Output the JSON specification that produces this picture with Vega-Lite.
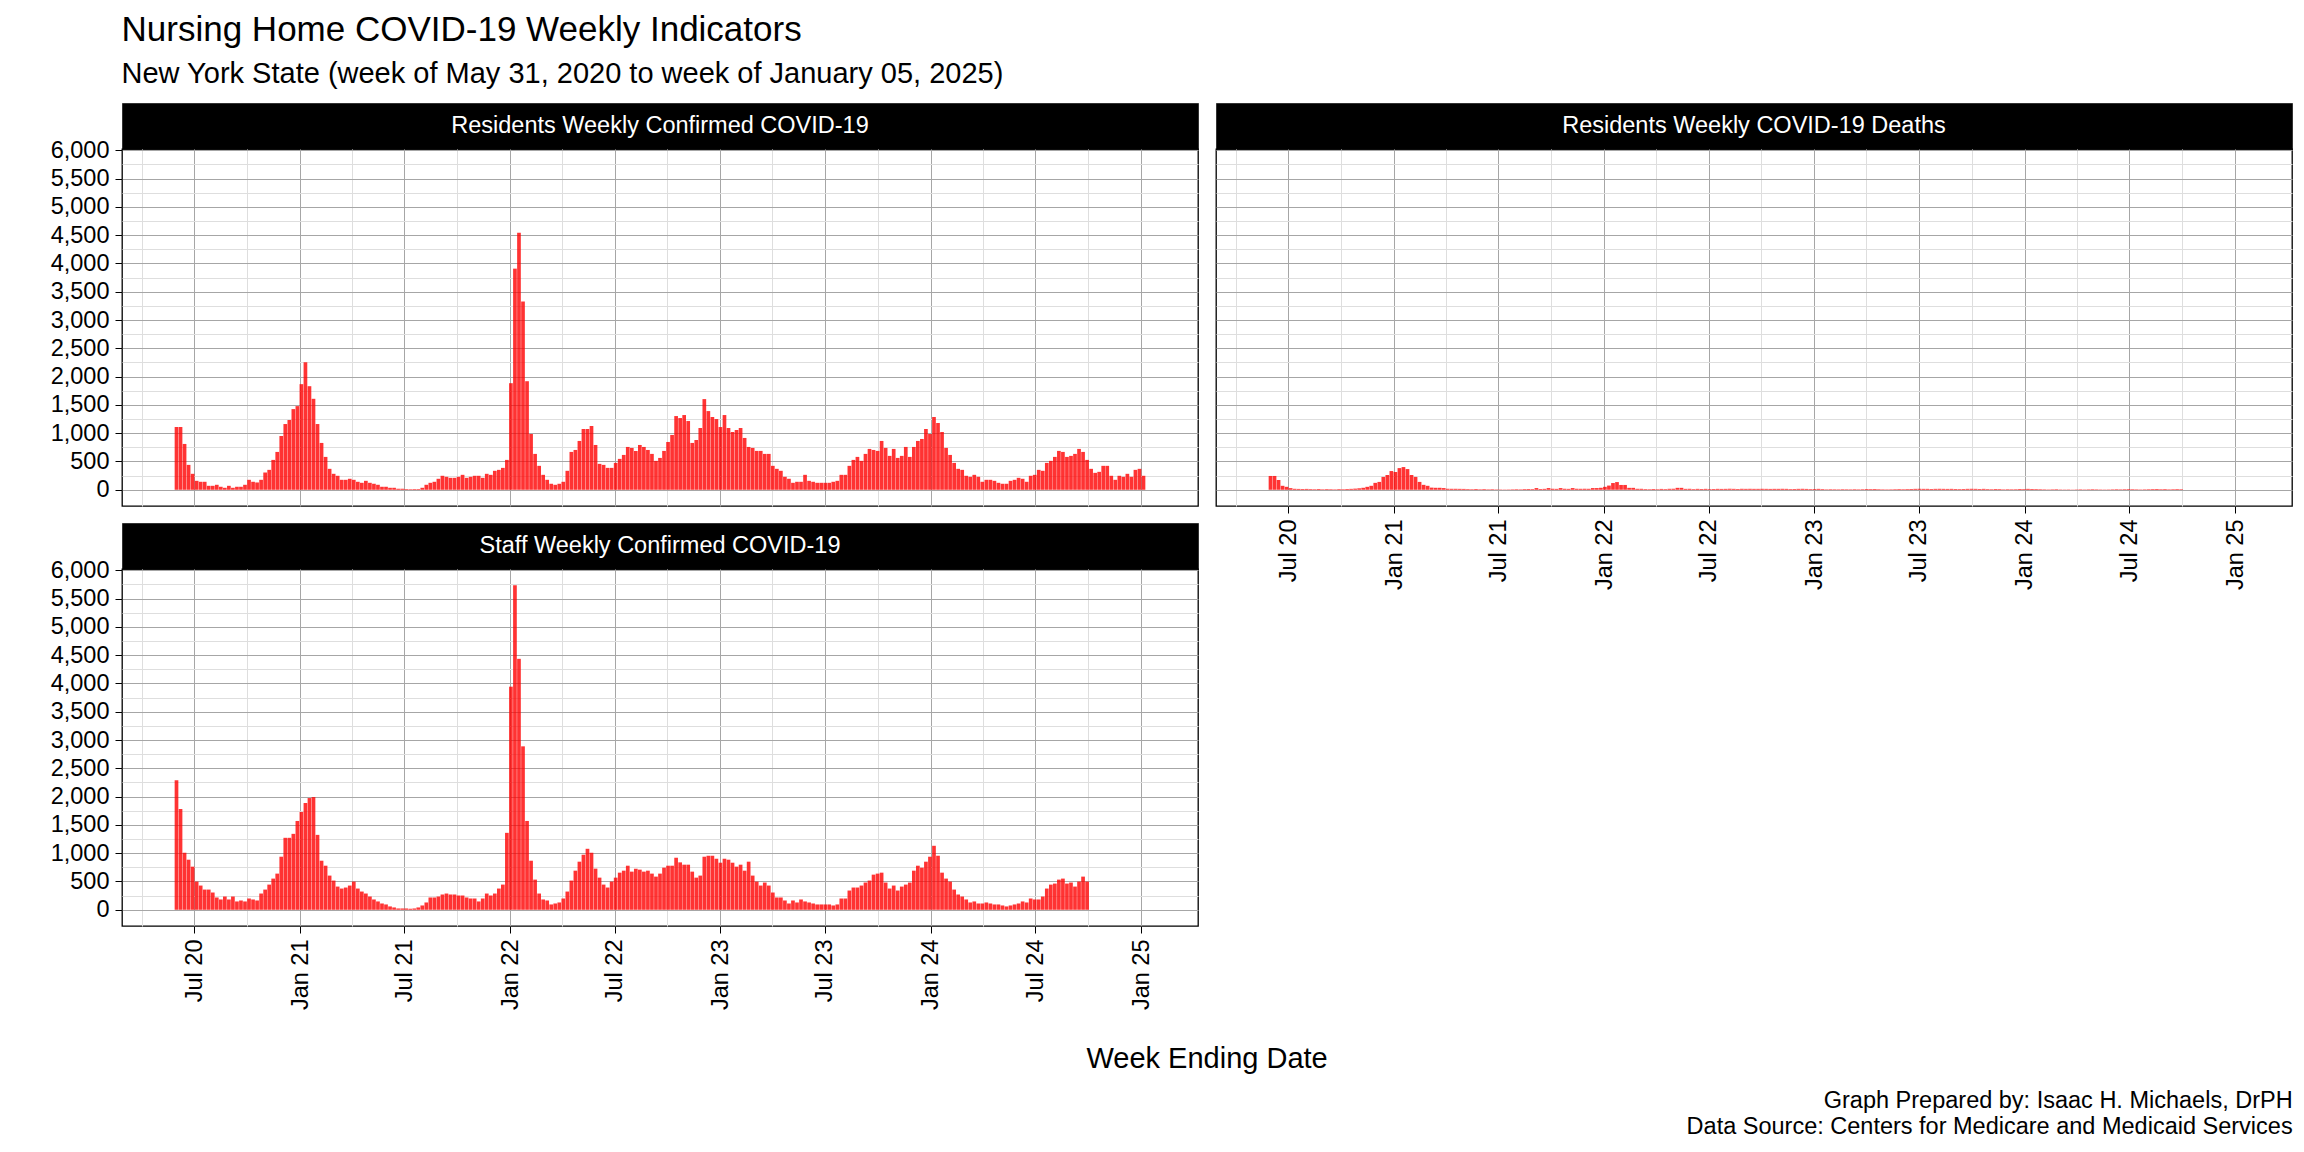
{
"$schema":"https://vega.github.io/schema/vega-lite/v6.json",
"background":"white",
"padding":{"left":49,"top":12,"right":14,"bottom":10},
"title":{"text":"Nursing Home COVID-19 Weekly Indicators","subtitle":"New York State (week of May 31, 2020 to week of January 05, 2025)","anchor":"start","dx":72,"fontSize":35,"subtitleFontSize":29,"fontWeight":"normal","color":"black","subtitleColor":"black","subtitlePadding":12,"offset":14,"font":"Liberation Sans","subtitleFont":"Liberation Sans"},
"config":{"font":"Liberation Sans","view":{"stroke":"black","strokeWidth":1.3},"axis":{"labelFont":"Liberation Sans","labelColor":"black"}},
"datasets":{"weekly":[
{"week":"2020-05-31","res":1110,"deaths":244,"staff":2291},
{"week":"2020-06-07","res":1110,"deaths":244,"staff":1781},
{"week":"2020-06-14","res":810,"deaths":174,"staff":1008},
{"week":"2020-06-21","res":440,"deaths":70,"staff":885},
{"week":"2020-06-28","res":282,"deaths":52,"staff":762},
{"week":"2020-07-05","res":158,"deaths":29,"staff":498},
{"week":"2020-07-12","res":141,"deaths":17,"staff":428},
{"week":"2020-07-19","res":141,"deaths":15,"staff":357},
{"week":"2020-07-26","res":70,"deaths":14,"staff":357},
{"week":"2020-08-02","res":70,"deaths":15,"staff":305},
{"week":"2020-08-09","res":88,"deaths":12,"staff":217},
{"week":"2020-08-16","res":53,"deaths":10,"staff":182},
{"week":"2020-08-23","res":35,"deaths":14,"staff":234},
{"week":"2020-08-30","res":70,"deaths":9,"staff":182},
{"week":"2020-09-06","res":35,"deaths":12,"staff":234},
{"week":"2020-09-13","res":53,"deaths":10,"staff":147},
{"week":"2020-09-20","res":53,"deaths":8,"staff":164},
{"week":"2020-09-27","res":88,"deaths":12,"staff":147},
{"week":"2020-10-04","res":176,"deaths":10,"staff":199},
{"week":"2020-10-11","res":141,"deaths":14,"staff":182},
{"week":"2020-10-18","res":129,"deaths":16,"staff":164},
{"week":"2020-10-25","res":176,"deaths":20,"staff":287},
{"week":"2020-11-01","res":305,"deaths":26,"staff":357},
{"week":"2020-11-08","res":352,"deaths":35,"staff":445},
{"week":"2020-11-15","res":528,"deaths":52,"staff":551},
{"week":"2020-11-22","res":669,"deaths":70,"staff":639},
{"week":"2020-11-29","res":951,"deaths":122,"staff":938},
{"week":"2020-12-06","res":1162,"deaths":139,"staff":1272},
{"week":"2020-12-13","res":1233,"deaths":227,"staff":1272},
{"week":"2020-12-20","res":1426,"deaths":261,"staff":1342},
{"week":"2020-12-27","res":1479,"deaths":331,"staff":1570},
{"week":"2021-01-03","res":1867,"deaths":314,"staff":1729},
{"week":"2021-01-10","res":2254,"deaths":383,"staff":1887},
{"week":"2021-01-17","res":1831,"deaths":401,"staff":1975},
{"week":"2021-01-24","res":1608,"deaths":366,"staff":1992},
{"week":"2021-01-31","res":1162,"deaths":261,"staff":1324},
{"week":"2021-02-07","res":828,"deaths":227,"staff":867},
{"week":"2021-02-14","res":581,"deaths":139,"staff":779},
{"week":"2021-02-21","res":370,"deaths":87,"staff":604},
{"week":"2021-02-28","res":282,"deaths":70,"staff":516},
{"week":"2021-03-07","res":247,"deaths":38,"staff":410},
{"week":"2021-03-14","res":176,"deaths":35,"staff":375},
{"week":"2021-03-21","res":176,"deaths":35,"staff":393},
{"week":"2021-03-28","res":194,"deaths":30,"staff":428},
{"week":"2021-04-04","res":176,"deaths":18,"staff":498},
{"week":"2021-04-11","res":141,"deaths":17,"staff":375},
{"week":"2021-04-18","res":123,"deaths":17,"staff":322},
{"week":"2021-04-25","res":158,"deaths":16,"staff":287},
{"week":"2021-05-02","res":123,"deaths":15,"staff":234},
{"week":"2021-05-09","res":106,"deaths":12,"staff":182},
{"week":"2021-05-16","res":88,"deaths":10,"staff":147},
{"week":"2021-05-23","res":53,"deaths":14,"staff":111},
{"week":"2021-05-30","res":53,"deaths":9,"staff":94},
{"week":"2021-06-06","res":35,"deaths":12,"staff":59},
{"week":"2021-06-13","res":35,"deaths":8,"staff":41},
{"week":"2021-06-20","res":18,"deaths":10,"staff":23},
{"week":"2021-06-27","res":18,"deaths":7,"staff":23},
{"week":"2021-07-04","res":12,"deaths":6,"staff":23},
{"week":"2021-07-11","res":10,"deaths":5,"staff":18},
{"week":"2021-07-18","res":12,"deaths":6,"staff":23},
{"week":"2021-07-25","res":12,"deaths":8,"staff":41},
{"week":"2021-08-01","res":35,"deaths":10,"staff":76},
{"week":"2021-08-08","res":88,"deaths":8,"staff":129},
{"week":"2021-08-15","res":123,"deaths":12,"staff":217},
{"week":"2021-08-22","res":141,"deaths":14,"staff":217},
{"week":"2021-08-29","res":194,"deaths":12,"staff":234},
{"week":"2021-09-05","res":247,"deaths":30,"staff":270},
{"week":"2021-09-12","res":229,"deaths":14,"staff":287},
{"week":"2021-09-19","res":211,"deaths":16,"staff":270},
{"week":"2021-09-26","res":211,"deaths":30,"staff":270},
{"week":"2021-10-03","res":229,"deaths":18,"staff":252},
{"week":"2021-10-10","res":264,"deaths":16,"staff":252},
{"week":"2021-10-17","res":211,"deaths":30,"staff":217},
{"week":"2021-10-24","res":229,"deaths":18,"staff":199},
{"week":"2021-10-31","res":247,"deaths":16,"staff":199},
{"week":"2021-11-07","res":247,"deaths":30,"staff":147},
{"week":"2021-11-14","res":211,"deaths":18,"staff":199},
{"week":"2021-11-21","res":282,"deaths":17,"staff":287},
{"week":"2021-11-28","res":264,"deaths":18,"staff":252},
{"week":"2021-12-05","res":335,"deaths":17,"staff":287},
{"week":"2021-12-12","res":352,"deaths":30,"staff":375},
{"week":"2021-12-19","res":387,"deaths":30,"staff":445},
{"week":"2021-12-26","res":528,"deaths":35,"staff":1360},
{"week":"2022-01-02","res":1884,"deaths":52,"staff":3944},
{"week":"2022-01-09","res":3909,"deaths":74,"staff":5737},
{"week":"2022-01-16","res":4543,"deaths":119,"staff":4436},
{"week":"2022-01-23","res":3328,"deaths":136,"staff":2889},
{"week":"2022-01-30","res":1919,"deaths":85,"staff":1570},
{"week":"2022-02-06","res":986,"deaths":85,"staff":867},
{"week":"2022-02-13","res":634,"deaths":34,"staff":533},
{"week":"2022-02-20","res":423,"deaths":34,"staff":287},
{"week":"2022-02-27","res":264,"deaths":17,"staff":182},
{"week":"2022-03-06","res":176,"deaths":17,"staff":164},
{"week":"2022-03-13","res":106,"deaths":12,"staff":94},
{"week":"2022-03-20","res":88,"deaths":10,"staff":111},
{"week":"2022-03-27","res":106,"deaths":14,"staff":129},
{"week":"2022-04-03","res":141,"deaths":10,"staff":199},
{"week":"2022-04-10","res":335,"deaths":15,"staff":322},
{"week":"2022-04-17","res":669,"deaths":12,"staff":516},
{"week":"2022-04-24","res":704,"deaths":17,"staff":691},
{"week":"2022-05-01","res":863,"deaths":18,"staff":850},
{"week":"2022-05-08","res":1074,"deaths":34,"staff":973},
{"week":"2022-05-15","res":1074,"deaths":34,"staff":1078},
{"week":"2022-05-22","res":1127,"deaths":16,"staff":1008},
{"week":"2022-05-29","res":792,"deaths":17,"staff":727},
{"week":"2022-06-05","res":458,"deaths":12,"staff":568},
{"week":"2022-06-12","res":440,"deaths":16,"staff":445},
{"week":"2022-06-19","res":387,"deaths":14,"staff":393},
{"week":"2022-06-26","res":387,"deaths":16,"staff":498},
{"week":"2022-07-03","res":475,"deaths":12,"staff":568},
{"week":"2022-07-10","res":546,"deaths":14,"staff":656},
{"week":"2022-07-17","res":616,"deaths":16,"staff":691},
{"week":"2022-07-24","res":757,"deaths":15,"staff":779},
{"week":"2022-07-31","res":740,"deaths":16,"staff":674},
{"week":"2022-08-07","res":687,"deaths":17,"staff":727},
{"week":"2022-08-14","res":792,"deaths":16,"staff":709},
{"week":"2022-08-21","res":757,"deaths":14,"staff":674},
{"week":"2022-08-28","res":704,"deaths":17,"staff":691},
{"week":"2022-09-04","res":634,"deaths":16,"staff":639},
{"week":"2022-09-11","res":511,"deaths":17,"staff":586},
{"week":"2022-09-18","res":563,"deaths":16,"staff":639},
{"week":"2022-09-25","res":687,"deaths":16,"staff":744},
{"week":"2022-10-02","res":845,"deaths":17,"staff":779},
{"week":"2022-10-09","res":969,"deaths":16,"staff":779},
{"week":"2022-10-16","res":1303,"deaths":15,"staff":920},
{"week":"2022-10-23","res":1268,"deaths":16,"staff":838},
{"week":"2022-10-30","res":1321,"deaths":16,"staff":797},
{"week":"2022-11-06","res":1215,"deaths":17,"staff":797},
{"week":"2022-11-13","res":828,"deaths":16,"staff":674},
{"week":"2022-11-20","res":880,"deaths":12,"staff":568},
{"week":"2022-11-27","res":1092,"deaths":14,"staff":604},
{"week":"2022-12-04","res":1603,"deaths":16,"staff":938},
{"week":"2022-12-11","res":1391,"deaths":17,"staff":955},
{"week":"2022-12-18","res":1286,"deaths":15,"staff":955},
{"week":"2022-12-25","res":1250,"deaths":12,"staff":902},
{"week":"2023-01-01","res":1109,"deaths":14,"staff":832},
{"week":"2023-01-08","res":1321,"deaths":16,"staff":902},
{"week":"2023-01-15","res":1092,"deaths":12,"staff":885},
{"week":"2023-01-22","res":1021,"deaths":8,"staff":832},
{"week":"2023-01-29","res":1057,"deaths":10,"staff":762},
{"week":"2023-02-05","res":1092,"deaths":9,"staff":797},
{"week":"2023-02-12","res":916,"deaths":8,"staff":691},
{"week":"2023-02-19","res":757,"deaths":10,"staff":850},
{"week":"2023-02-26","res":740,"deaths":9,"staff":604},
{"week":"2023-03-05","res":687,"deaths":8,"staff":498},
{"week":"2023-03-12","res":687,"deaths":10,"staff":428},
{"week":"2023-03-19","res":634,"deaths":8,"staff":481},
{"week":"2023-03-26","res":634,"deaths":10,"staff":428},
{"week":"2023-04-02","res":423,"deaths":14,"staff":305},
{"week":"2023-04-09","res":370,"deaths":12,"staff":217},
{"week":"2023-04-16","res":335,"deaths":14,"staff":217},
{"week":"2023-04-23","res":229,"deaths":10,"staff":164},
{"week":"2023-04-30","res":194,"deaths":8,"staff":111},
{"week":"2023-05-07","res":123,"deaths":7,"staff":164},
{"week":"2023-05-14","res":141,"deaths":8,"staff":129},
{"week":"2023-05-21","res":141,"deaths":10,"staff":182},
{"week":"2023-05-28","res":264,"deaths":12,"staff":147},
{"week":"2023-06-04","res":158,"deaths":10,"staff":129},
{"week":"2023-06-11","res":141,"deaths":12,"staff":111},
{"week":"2023-06-18","res":123,"deaths":14,"staff":94},
{"week":"2023-06-25","res":123,"deaths":16,"staff":94},
{"week":"2023-07-02","res":123,"deaths":17,"staff":94},
{"week":"2023-07-09","res":123,"deaths":16,"staff":94},
{"week":"2023-07-16","res":141,"deaths":16,"staff":76},
{"week":"2023-07-23","res":158,"deaths":14,"staff":94},
{"week":"2023-07-30","res":264,"deaths":16,"staff":199},
{"week":"2023-08-06","res":264,"deaths":17,"staff":199},
{"week":"2023-08-13","res":423,"deaths":16,"staff":340},
{"week":"2023-08-20","res":528,"deaths":15,"staff":393},
{"week":"2023-08-27","res":581,"deaths":16,"staff":393},
{"week":"2023-09-03","res":511,"deaths":14,"staff":428},
{"week":"2023-09-10","res":634,"deaths":12,"staff":481},
{"week":"2023-09-17","res":722,"deaths":14,"staff":516},
{"week":"2023-09-24","res":704,"deaths":16,"staff":621},
{"week":"2023-10-01","res":687,"deaths":17,"staff":639},
{"week":"2023-10-08","res":863,"deaths":16,"staff":656},
{"week":"2023-10-15","res":740,"deaths":14,"staff":481},
{"week":"2023-10-22","res":599,"deaths":16,"staff":375},
{"week":"2023-10-29","res":722,"deaths":12,"staff":428},
{"week":"2023-11-05","res":563,"deaths":10,"staff":340},
{"week":"2023-11-12","res":599,"deaths":14,"staff":410},
{"week":"2023-11-19","res":757,"deaths":12,"staff":445},
{"week":"2023-11-26","res":581,"deaths":8,"staff":481},
{"week":"2023-12-03","res":757,"deaths":10,"staff":691},
{"week":"2023-12-10","res":863,"deaths":9,"staff":779},
{"week":"2023-12-17","res":898,"deaths":10,"staff":744},
{"week":"2023-12-24","res":1074,"deaths":14,"staff":850},
{"week":"2023-12-31","res":986,"deaths":12,"staff":938},
{"week":"2024-01-07","res":1286,"deaths":16,"staff":1131},
{"week":"2024-01-14","res":1180,"deaths":14,"staff":955},
{"week":"2024-01-21","res":1021,"deaths":12,"staff":656},
{"week":"2024-01-28","res":740,"deaths":10,"staff":551},
{"week":"2024-02-04","res":616,"deaths":8,"staff":498},
{"week":"2024-02-11","res":475,"deaths":6,"staff":357},
{"week":"2024-02-18","res":370,"deaths":8,"staff":270},
{"week":"2024-02-25","res":352,"deaths":10,"staff":234},
{"week":"2024-03-03","res":247,"deaths":6,"staff":182},
{"week":"2024-03-10","res":229,"deaths":5,"staff":129},
{"week":"2024-03-17","res":264,"deaths":6,"staff":147},
{"week":"2024-03-24","res":229,"deaths":4,"staff":111},
{"week":"2024-03-31","res":141,"deaths":6,"staff":111},
{"week":"2024-04-07","res":176,"deaths":8,"staff":129},
{"week":"2024-04-14","res":176,"deaths":6,"staff":111},
{"week":"2024-04-21","res":158,"deaths":8,"staff":94},
{"week":"2024-04-28","res":123,"deaths":10,"staff":94},
{"week":"2024-05-05","res":106,"deaths":8,"staff":76},
{"week":"2024-05-12","res":106,"deaths":6,"staff":59},
{"week":"2024-05-19","res":158,"deaths":5,"staff":76},
{"week":"2024-05-26","res":176,"deaths":6,"staff":94},
{"week":"2024-06-02","res":211,"deaths":8,"staff":111},
{"week":"2024-06-09","res":194,"deaths":10,"staff":147},
{"week":"2024-06-16","res":141,"deaths":8,"staff":129},
{"week":"2024-06-23","res":247,"deaths":10,"staff":199},
{"week":"2024-06-30","res":264,"deaths":12,"staff":182},
{"week":"2024-07-07","res":352,"deaths":10,"staff":182},
{"week":"2024-07-14","res":335,"deaths":8,"staff":234},
{"week":"2024-07-21","res":475,"deaths":6,"staff":375},
{"week":"2024-07-28","res":511,"deaths":8,"staff":445},
{"week":"2024-08-04","res":581,"deaths":10,"staff":463},
{"week":"2024-08-11","res":687,"deaths":12,"staff":533},
{"week":"2024-08-18","res":669,"deaths":14,"staff":551},
{"week":"2024-08-25","res":581,"deaths":10,"staff":463},
{"week":"2024-09-01","res":599,"deaths":12,"staff":481},
{"week":"2024-09-08","res":634,"deaths":8,"staff":410},
{"week":"2024-09-15","res":722,"deaths":10,"staff":498},
{"week":"2024-09-22","res":669,"deaths":12,"staff":586},
{"week":"2024-09-29","res":528,"deaths":10,"staff":498},
{"week":"2024-10-06","res":370},
{"week":"2024-10-13","res":299},
{"week":"2024-10-20","res":317},
{"week":"2024-10-27","res":423},
{"week":"2024-11-03","res":423},
{"week":"2024-11-10","res":247},
{"week":"2024-11-17","res":176},
{"week":"2024-11-24","res":247},
{"week":"2024-12-01","res":229},
{"week":"2024-12-08","res":282},
{"week":"2024-12-15","res":229},
{"week":"2024-12-22","res":352},
{"week":"2024-12-29","res":370},
{"week":"2025-01-05","res":247}
]},
"vconcat":[{
 "title":{"text":["Graph Prepared by: Isaac H. Michaels, DrPH","Data Source: Centers for Medicare and Medicaid Services"],"orient":"bottom","anchor":"end","fontSize":23.5,"fontWeight":"normal","color":"black","lineHeight":26,"offset":15,"font":"Liberation Sans"},
 "vconcat":[{
  "title":{"text":"Week Ending Date","orient":"bottom","anchor":"middle","fontSize":29,"fontWeight":"normal","color":"black","offset":35,"dx":36,"font":"Liberation Sans"},
  "spacing":16,
  "hconcat":[
   {"spacing":15,"vconcat":[
    {"spacing":0,"bounds":"flush","vconcat":[
     {"data":{"values":[{"panel":"Residents Weekly Confirmed COVID-19"}]},"width":1076,"height":46,"view":{"fill":"black","stroke":"#333333","strokeWidth":1},
      "mark":{"type":"text","color":"white","fontSize":23.5,"font":"Liberation Sans"},"encoding":{"text":{"field":"panel","type":"nominal"}}},
     {"data":{"name":"weekly"},"width":1076,"height":357,
      "mark":{"type":"bar","color":"#ff0000","opacity":0.8,"size":3.7},
      "encoding":{
       "x":{"field":"week","type":"temporal","scale":{"type":"utc","domain":[{"year":2020,"month":3,"date":6,"utc":true},{"year":2025,"month":4,"date":1,"utc":true}]},
        "axis":{"title":null,"values":[{"year":2020,"month":4,"date":1,"utc":true},{"year":2020,"month":7,"date":1,"utc":true},{"year":2020,"month":10,"date":1,"utc":true},{"year":2021,"month":1,"date":1,"utc":true},{"year":2021,"month":4,"date":1,"utc":true},{"year":2021,"month":7,"date":1,"utc":true},{"year":2021,"month":10,"date":1,"utc":true},{"year":2022,"month":1,"date":1,"utc":true},{"year":2022,"month":4,"date":1,"utc":true},{"year":2022,"month":7,"date":1,"utc":true},{"year":2022,"month":10,"date":1,"utc":true},{"year":2023,"month":1,"date":1,"utc":true},{"year":2023,"month":4,"date":1,"utc":true},{"year":2023,"month":7,"date":1,"utc":true},{"year":2023,"month":10,"date":1,"utc":true},{"year":2024,"month":1,"date":1,"utc":true},{"year":2024,"month":4,"date":1,"utc":true},{"year":2024,"month":7,"date":1,"utc":true},{"year":2024,"month":10,"date":1,"utc":true},{"year":2025,"month":1,"date":1,"utc":true}],
         "grid":true,"gridWidth":1,"gridColor":{"condition":{"test":"utcmonth(datum.value) % 6 === 0","value":"#a6a6a6"},"value":"#dedede"},
         "labels":false,"ticks":false,"domain":false}},
       "y":{"field":"res","type":"quantitative","scale":{"domain":[-287,6024],"nice":false,"zero":false},
        "axis":{"title":null,"values":[0,250,500,750,1000,1250,1500,1750,2000,2250,2500,2750,3000,3250,3500,3750,4000,4250,4500,4750,5000,5250,5500,5750,6000],
         "grid":true,"gridWidth":1,"gridColor":{"condition":{"test":"datum.value % 500 === 0","value":"#a6a6a6"},"value":"#dedede"},
         "labelExpr":"datum.value % 500 === 0 ? format(datum.value, ',') : ''","labelFontSize":23.5,"labelPadding":6,"labelOverlap":false,
         "ticks":true,"tickSize":7,"tickColor":"black","tickWidth":1,"tickOpacity":{"condition":{"test":"datum.value % 500 === 0","value":1},"value":0},"domain":false}}}}
    ]},
    {"spacing":0,"bounds":"flush","vconcat":[
     {"data":{"values":[{"panel":"Staff Weekly Confirmed COVID-19"}]},"width":1076,"height":46,"view":{"fill":"black","stroke":"#333333","strokeWidth":1},
      "mark":{"type":"text","color":"white","fontSize":23.5,"font":"Liberation Sans"},"encoding":{"text":{"field":"panel","type":"nominal"}}},
     {"data":{"name":"weekly"},"width":1076,"height":357,
      "mark":{"type":"bar","color":"#ff0000","opacity":0.8,"size":3.7},
      "encoding":{
       "x":{"field":"week","type":"temporal","scale":{"type":"utc","domain":[{"year":2020,"month":3,"date":6,"utc":true},{"year":2025,"month":4,"date":1,"utc":true}]},
        "axis":{"title":null,"values":[{"year":2020,"month":4,"date":1,"utc":true},{"year":2020,"month":7,"date":1,"utc":true},{"year":2020,"month":10,"date":1,"utc":true},{"year":2021,"month":1,"date":1,"utc":true},{"year":2021,"month":4,"date":1,"utc":true},{"year":2021,"month":7,"date":1,"utc":true},{"year":2021,"month":10,"date":1,"utc":true},{"year":2022,"month":1,"date":1,"utc":true},{"year":2022,"month":4,"date":1,"utc":true},{"year":2022,"month":7,"date":1,"utc":true},{"year":2022,"month":10,"date":1,"utc":true},{"year":2023,"month":1,"date":1,"utc":true},{"year":2023,"month":4,"date":1,"utc":true},{"year":2023,"month":7,"date":1,"utc":true},{"year":2023,"month":10,"date":1,"utc":true},{"year":2024,"month":1,"date":1,"utc":true},{"year":2024,"month":4,"date":1,"utc":true},{"year":2024,"month":7,"date":1,"utc":true},{"year":2024,"month":10,"date":1,"utc":true},{"year":2025,"month":1,"date":1,"utc":true}],
         "grid":true,"gridWidth":1,"gridColor":{"condition":{"test":"utcmonth(datum.value) % 6 === 0","value":"#a6a6a6"},"value":"#dedede"},
         "labelExpr":"utcmonth(datum.value) % 6 === 0 ? utcFormat(datum.value, '%b %y') : ''","labelAngle":-90,"labelFontSize":23.5,"labelPadding":6,"labelOverlap":false,"labelFlush":false,
         "ticks":true,"tickSize":7,"tickColor":"black","tickWidth":1,"tickOpacity":{"condition":{"test":"utcmonth(datum.value) % 6 === 0","value":1},"value":0},"domain":false}},
       "y":{"field":"staff","type":"quantitative","scale":{"domain":[-287,6024],"nice":false,"zero":false},
        "axis":{"title":null,"values":[0,250,500,750,1000,1250,1500,1750,2000,2250,2500,2750,3000,3250,3500,3750,4000,4250,4500,4750,5000,5250,5500,5750,6000],
         "grid":true,"gridWidth":1,"gridColor":{"condition":{"test":"datum.value % 500 === 0","value":"#a6a6a6"},"value":"#dedede"},
         "labelExpr":"datum.value % 500 === 0 ? format(datum.value, ',') : ''","labelFontSize":23.5,"labelPadding":6,"labelOverlap":false,
         "ticks":true,"tickSize":7,"tickColor":"black","tickWidth":1,"tickOpacity":{"condition":{"test":"datum.value % 500 === 0","value":1},"value":0},"domain":false}}}}
    ]}
   ]},
   {"spacing":0,"bounds":"flush","vconcat":[
     {"data":{"values":[{"panel":"Residents Weekly COVID-19 Deaths"}]},"width":1076,"height":46,"view":{"fill":"black","stroke":"#333333","strokeWidth":1},
      "mark":{"type":"text","color":"white","fontSize":23.5,"font":"Liberation Sans"},"encoding":{"text":{"field":"panel","type":"nominal"}}},
     {"data":{"name":"weekly"},"width":1076,"height":357,
      "mark":{"type":"bar","color":"#ff0000","opacity":0.8,"size":3.7},
      "encoding":{
       "x":{"field":"week","type":"temporal","scale":{"type":"utc","domain":[{"year":2020,"month":3,"date":6,"utc":true},{"year":2025,"month":4,"date":1,"utc":true}]},
        "axis":{"title":null,"values":[{"year":2020,"month":4,"date":1,"utc":true},{"year":2020,"month":7,"date":1,"utc":true},{"year":2020,"month":10,"date":1,"utc":true},{"year":2021,"month":1,"date":1,"utc":true},{"year":2021,"month":4,"date":1,"utc":true},{"year":2021,"month":7,"date":1,"utc":true},{"year":2021,"month":10,"date":1,"utc":true},{"year":2022,"month":1,"date":1,"utc":true},{"year":2022,"month":4,"date":1,"utc":true},{"year":2022,"month":7,"date":1,"utc":true},{"year":2022,"month":10,"date":1,"utc":true},{"year":2023,"month":1,"date":1,"utc":true},{"year":2023,"month":4,"date":1,"utc":true},{"year":2023,"month":7,"date":1,"utc":true},{"year":2023,"month":10,"date":1,"utc":true},{"year":2024,"month":1,"date":1,"utc":true},{"year":2024,"month":4,"date":1,"utc":true},{"year":2024,"month":7,"date":1,"utc":true},{"year":2024,"month":10,"date":1,"utc":true},{"year":2025,"month":1,"date":1,"utc":true}],
         "grid":true,"gridWidth":1,"gridColor":{"condition":{"test":"utcmonth(datum.value) % 6 === 0","value":"#a6a6a6"},"value":"#dedede"},
         "labelExpr":"utcmonth(datum.value) % 6 === 0 ? utcFormat(datum.value, '%b %y') : ''","labelAngle":-90,"labelFontSize":23.5,"labelPadding":6,"labelOverlap":false,"labelFlush":false,
         "ticks":true,"tickSize":7,"tickColor":"black","tickWidth":1,"tickOpacity":{"condition":{"test":"utcmonth(datum.value) % 6 === 0","value":1},"value":0},"domain":false}},
       "y":{"field":"deaths","type":"quantitative","scale":{"domain":[-287,6024],"nice":false,"zero":false},
        "axis":{"title":null,"values":[0,250,500,750,1000,1250,1500,1750,2000,2250,2500,2750,3000,3250,3500,3750,4000,4250,4500,4750,5000,5250,5500,5750,6000],
         "grid":true,"gridWidth":1,"gridColor":{"condition":{"test":"datum.value % 500 === 0","value":"#a6a6a6"},"value":"#dedede"},
         "labels":false,"ticks":false,"domain":false}}}}
   ]}
  ]
 }]
}]
}
